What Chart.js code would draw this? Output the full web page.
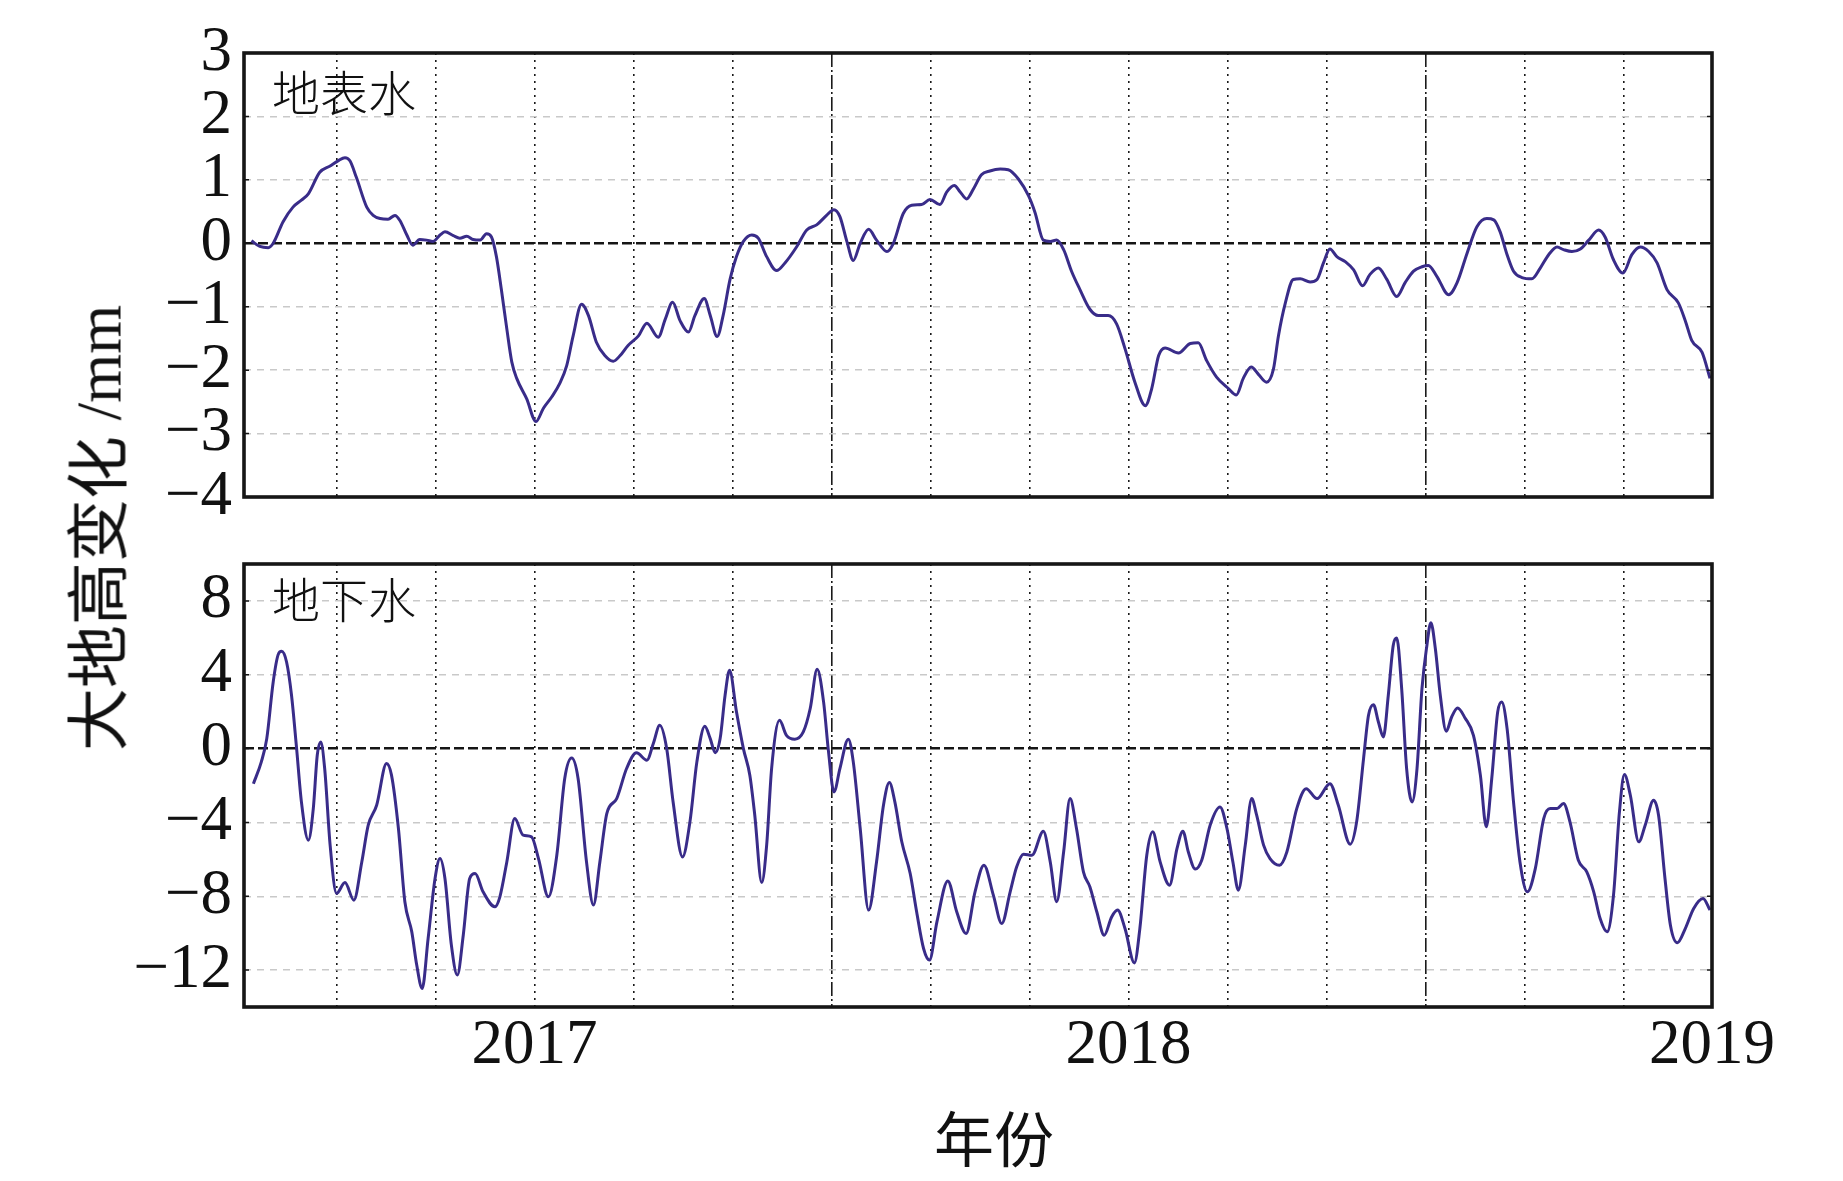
<!doctype html>
<html lang="zh">
  <head>
    <meta charset="utf-8">
    <title>地表水 / 地下水 大地高变化</title>
    <style>
      * {
        margin: 0;
        padding: 0;
      }
      body {
        background: #fff;
      }
      .page {
        position: relative;
        width: 1843px;
        height: 1181px;
        background: #fff;
      }
      .page canvas {
        position: absolute;
        left: 0;
        top: 0;
      }
      .txt {
        position: absolute;
        white-space: nowrap;
        color: #111;
        font-family: "Liberation Serif", "Noto Sans CJK SC", serif;
        line-height: 1;
      }
      .panelName {
        font-size: 48px;
        font-weight: 300;
      }
    </style>
  </head>
  <body>
    <div class="page">
      <canvas id="topChart" width="1843" height="1181"></canvas>
      <canvas id="bottomChart" width="1843" height="1181"></canvas>
      <div class="txt panelName" style="left:272px; top:71px;">地表水</div>
      <div class="txt panelName" style="left:272px; top:578px;">地下水</div>
      <div class="txt" style="left:100px; top:528px; font-size:63px; transform:translate(-50%,-50%) rotate(-90deg);">大地高变化 /mm</div>
      <div class="txt" style="left:994px; top:1142px; font-size:60px; transform:translate(-50%,-50%);">年份</div>
    </div>

    <script src="https://cdn.jsdelivr.net/npm/chart.js/dist/chart.umd.min.js"></script>
    <script>
    // x is counted in months from July 2016
    const X_MIN = 0.13;
    const X_MAX = 29.79;
    const gridMonths = [2, 4, 6, 8, 10, 12, 14, 16, 18, 20, 22, 24, 26, 28];
    const midYearMonths = [12, 24];
    const yearTickMonths = [6, 18, X_MAX];
    const yearLabels = ['2017', '2018', '2019'];

    const topTicks = [-4, -3, -2, -1, 0, 1, 2, 3];
    const bottomTicks = [-12, -8, -4, 0, 4, 8];

    // 地表水
    const surfaceMonths = [
      0.28, 0.45, 0.62, 0.72, 0.92, 1.12, 1.29, 1.43, 1.66, 1.87,
      2.03, 2.17, 2.27, 2.40, 2.61, 2.74, 2.88, 3.04, 3.18, 3.28,
      3.42, 3.54, 3.68, 3.82, 3.95, 4.09, 4.19, 4.36, 4.49, 4.63,
      4.76, 4.90, 5.03, 5.13, 5.23, 5.33, 5.44, 5.54, 5.64, 5.84,
      6.03, 6.18, 6.35, 6.51, 6.65, 6.78, 6.95, 7.09, 7.25, 7.42,
      7.59, 7.73, 7.89, 8.10, 8.27, 8.50, 8.64, 8.79, 8.94, 9.11,
      9.24, 9.43, 9.55, 9.69, 9.81, 9.95,
      10.08, 10.22, 10.39, 10.52, 10.69, 10.89, 11.06, 11.30, 11.50, 11.70,
      11.90, 12.05, 12.17, 12.31, 12.44, 12.58, 12.75, 12.91, 13.12, 13.25,
      13.45, 13.62, 13.82, 13.99, 14.19, 14.33, 14.48, 14.60, 14.73, 14.87,
      15.03, 15.20, 15.41, 15.57, 15.78, 15.98, 16.11, 16.28, 16.42, 16.55,
      16.69, 16.85, 17.02, 17.22, 17.39, 17.59, 17.76, 17.93, 18.13, 18.34,
      18.47, 18.61, 18.74, 19.01, 19.25, 19.41, 19.58, 19.78,
      20.02, 20.18, 20.32, 20.48, 20.63, 20.79, 20.93, 21.03, 21.17, 21.33,
      21.47, 21.67, 21.81, 21.94, 22.07, 22.21, 22.38, 22.55, 22.73, 22.88,
      23.05, 23.22, 23.42, 23.59, 23.76, 23.93, 24.06, 24.23, 24.47, 24.64,
      24.84, 25.04, 25.24, 25.38, 25.51, 25.65, 25.78, 25.95, 26.15, 26.32,
      26.49, 26.66, 26.79, 26.96, 27.13, 27.30, 27.50, 27.63, 27.80, 27.99,
      28.17, 28.34, 28.51, 28.68, 28.88, 29.11, 29.25, 29.38, 29.59, 29.75
    ];
    const surfaceWater = [
      0.04, -0.05, -0.07, 0, 0.34, 0.57, 0.68, 0.78, 1.12, 1.22,
      1.30, 1.35, 1.30, 1.04, 0.57, 0.44, 0.39, 0.38, 0.44, 0.36,
      0.13, -0.03, 0.06, 0.05, 0.03, 0.13, 0.18, 0.12, 0.08, 0.11,
      0.06, 0.05, 0.15, 0.10, -0.21, -0.73, -1.35, -1.87, -2.13, -2.45,
      -2.81, -2.60, -2.42, -2.21, -1.93, -1.46, -0.96, -1.14, -1.56, -1.77,
      -1.86, -1.77, -1.61, -1.46, -1.26, -1.48, -1.20, -0.93, -1.22, -1.40,
      -1.14, -0.87, -1.14, -1.47, -1.14, -0.57,
      -0.21, 0.03, 0.13, 0.08, -0.21, -0.43, -0.31, -0.05, 0.21, 0.29,
      0.44, 0.53, 0.42, 0.03, -0.27, 0, 0.22, 0.05, -0.13, 0,
      0.47, 0.60, 0.61, 0.69, 0.61, 0.81, 0.91, 0.81, 0.70, 0.86,
      1.08, 1.14, 1.17, 1.16, 1.01, 0.75, 0.49, 0.05, 0.03, 0.05,
      -0.10, -0.44, -0.73, -1.04, -1.14, -1.14, -1.27, -1.66, -2.19, -2.56,
      -2.29, -1.77, -1.65, -1.73, -1.58, -1.57, -1.85, -2.11,
      -2.29, -2.39, -2.13, -1.95, -2.07, -2.19, -1.98, -1.46, -0.94, -0.57,
      -0.56, -0.61, -0.57, -0.31, -0.09, -0.21, -0.29, -0.42, -0.67, -0.49,
      -0.39, -0.57, -0.84, -0.62, -0.44, -0.37, -0.35, -0.52, -0.81, -0.62,
      -0.16, 0.26, 0.39, 0.37, 0.18, -0.18, -0.44, -0.54, -0.56, -0.39,
      -0.18, -0.06, -0.10, -0.13, -0.09, 0.05, 0.21, 0.10, -0.26, -0.47,
      -0.18, -0.06, -0.13, -0.31, -0.73, -0.94, -1.22, -1.53, -1.72, -2.13
    ];

    // 地下水
    const groundMonths = [
      0.32, 0.48, 0.59, 0.72, 0.82, 0.89, 0.99, 1.09, 1.19, 1.29,
      1.43, 1.53, 1.61, 1.68, 1.76, 1.87, 2.00, 2.17, 2.35, 2.51,
      2.64, 2.81, 3.01, 3.11, 3.25, 3.38, 3.52, 3.62, 3.73, 3.85,
      3.99, 4.09, 4.19, 4.32, 4.44, 4.56, 4.69, 4.80, 4.96, 5.20,
      5.30, 5.44, 5.60, 5.77, 5.94, 6.08, 6.28, 6.45, 6.61, 6.75,
      6.88, 7.05, 7.19, 7.32, 7.46, 7.66, 7.86, 8.06, 8.27, 8.40,
      8.53, 8.67, 8.80, 8.99, 9.14, 9.28, 9.44, 9.55, 9.65, 9.75,
      9.85, 9.94,
      10.08, 10.22, 10.35, 10.45, 10.59, 10.69, 10.79, 10.95, 11.09, 11.26,
      11.43, 11.57, 11.71, 11.84, 11.94, 12.05, 12.17, 12.34, 12.44, 12.58,
      12.75, 12.91, 13.05, 13.17, 13.28, 13.42, 13.59, 13.72, 13.86, 13.98,
      14.13, 14.35, 14.53, 14.72, 14.90, 15.08, 15.27, 15.44, 15.61, 15.74,
      15.88, 16.05, 16.28, 16.42, 16.55, 16.69, 16.82, 16.95, 17.09, 17.22,
      17.36, 17.51, 17.66, 17.78, 17.93, 18.12, 18.23, 18.37, 18.49, 18.64,
      18.83, 18.98, 19.10, 19.21, 19.35, 19.48, 19.65,
      19.85, 19.99, 20.11, 20.22, 20.36, 20.49, 20.59, 20.73, 20.86, 21.05,
      21.20, 21.40, 21.59, 21.81, 22.07, 22.24, 22.48, 22.61, 22.75, 22.85,
      22.95, 23.05, 23.15, 23.25, 23.35, 23.42, 23.52, 23.62, 23.73, 23.83,
      23.93, 24.03, 24.11, 24.20, 24.30, 24.42, 24.53, 24.65, 24.80, 24.97,
      25.11, 25.23, 25.34, 25.46, 25.54, 25.65, 25.78, 25.91, 26.06, 26.22,
      26.39, 26.52, 26.66, 26.79, 26.92, 27.09, 27.26, 27.40, 27.53, 27.67,
      27.80, 27.92, 28.02, 28.14, 28.31, 28.44, 28.61, 28.71, 28.84, 28.95,
      29.09, 29.25, 29.42, 29.61, 29.75
    ];
    const groundWater = [
      -1.90, -0.72, 0.54, 3.61, 5.09, 5.27, 4.69, 2.89, 0.09, -2.89,
      -4.96, -3.25, -0.36, 0.36, -1.08, -5.23, -7.85, -7.26, -8.21, -6.14,
      -4.15, -3.07, -0.81, -1.44, -4.33, -8.30, -9.93, -11.73, -13.00, -10.29,
      -7.04, -5.96, -7.04, -10.65, -12.27, -10.11, -7.04, -6.77, -7.76, -8.57,
      -8.03, -6.14, -3.79, -4.69, -4.78, -5.96, -8.03, -5.78, -1.62, -0.51,
      -1.62, -6.14, -8.48, -6.14, -3.52, -2.71, -1.08, -0.23, -0.63, 0.27,
      1.26, 0, -2.89, -5.87, -3.97, -0.72, 1.21, 0.54, -0.22, 0.54,
      2.89, 4.24,
      1.99, 0, -1.44, -3.61, -7.26, -5.23, -1.08, 1.53, 0.72, 0.51,
      0.90, 2.17, 4.30, 2.53, -0.18, -2.35, -1.08, 0.51, -0.72, -4.33,
      -8.75, -6.14, -3.07, -1.84, -2.89, -5.05, -6.77, -8.84, -10.83, -11.46,
      -9.39, -7.17, -8.84, -10.02, -7.76, -6.32, -7.94, -9.48, -7.76, -6.41,
      -5.72, -5.78, -4.48, -6.14, -8.30, -5.60, -2.71, -4.33, -6.68, -7.49,
      -8.84, -10.11, -9.12, -8.75, -9.75, -11.61, -9.75, -5.78, -4.51, -6.14,
      -7.40, -5.42, -4.48, -5.60, -6.53, -6.05, -4.15,
      -3.16, -4.33, -6.14, -7.67, -5.23, -2.71, -3.61, -5.23, -5.96, -6.32,
      -5.60, -3.25, -2.17, -2.71, -1.90, -3.07, -5.18, -3.97, -0.54, 1.81,
      2.38, 1.44, 0.63, 2.89, 5.60, 5.99, 3.25, -1.08, -2.89, -1.08,
      3.25, 5.60, 6.82, 5.42, 2.89, 0.94, 1.71, 2.20, 1.66, 0.72,
      -1.44, -4.24, -1.62, 1.99, 2.53, 1.08, -2.89, -6.14, -7.76, -6.50,
      -3.79, -3.25, -3.25, -2.98, -3.97, -6.05, -6.68, -7.76, -9.21, -9.93,
      -7.94, -3.43, -1.41, -2.53, -5.05, -4.15, -2.80, -3.61, -7.04, -9.57,
      -10.52, -9.75, -8.66, -8.12, -8.75
    ];

    const lineColor = '#392c89';
    const tickFont = { family: 'Liberation Serif', size: 63 };

    const minusLabel = v => (v < 0 ? '\u2212' + Math.abs(v) : String(v));

    // thick box round the plot area, with short inner ticks on both sides
    const framePlugin = {
      id: 'frame',
      afterDraw(chart) {
        const { ctx, chartArea: a } = chart;
        const y = chart.scales.y;
        ctx.save();
        ctx.setLineDash([]);
        ctx.strokeStyle = '#161616';
        ctx.lineWidth = 1.5;
        y.ticks.forEach(t => {
          const py = y.getPixelForValue(t.value);
          ctx.beginPath();
          ctx.moveTo(a.left, py); ctx.lineTo(a.left + 5, py);
          ctx.moveTo(a.right - 5, py); ctx.lineTo(a.right, py);
          ctx.stroke();
        });
        ctx.lineWidth = 3.6;
        ctx.strokeRect(a.left, a.top, a.right - a.left, a.bottom - a.top);
        ctx.restore();
      }
    };

    function xScale(showLabels, bottomSpace) {
      return {
        type: 'linear',
        min: X_MIN,
        max: X_MAX,
        afterBuildTicks: s => {
          s.ticks = gridMonths.concat([X_MAX]).map(v => ({ value: v }));
        },
        afterFit: s => { s.height = bottomSpace; },
        grid: {
          drawTicks: false,
          lineWidth: 1.6,
          color: ctx => (ctx.tick && ctx.tick.value === X_MAX ? 'rgba(0,0,0,0)' : '#1a1a1a')
        },
        border: {
          display: false,
          dash: ctx => {
            if (!ctx.tick) return [];
            return midYearMonths.includes(ctx.tick.value) ? [14, 3, 2, 3] : [2, 5];
          }
        },
        ticks: {
          display: showLabels,
          autoSkip: false,
          maxRotation: 0,
          padding: 2,
          color: '#111',
          font: tickFont,
          callback: v => {
            const i = yearTickMonths.indexOf(v);
            return i >= 0 ? yearLabels[i] : '';
          }
        }
      };
    }

    function yScale(min, max, tickValues) {
      return {
        min: min,
        max: max,
        afterBuildTicks: s => {
          s.ticks = tickValues.map(v => ({ value: v }));
        },
        afterFit: s => { s.width = 244; },
        grid: {
          drawTicks: false,
          lineWidth: ctx => (ctx.tick && ctx.tick.value === 0 ? 2.4 : 1.5),
          color: ctx => (ctx.tick && ctx.tick.value === 0 ? '#151515' : '#c9c9c9')
        },
        border: {
          display: false,
          dash: ctx => {
            if (!ctx.tick) return [];
            return ctx.tick.value === 0 ? [10, 4] : [7, 6];
          }
        },
        ticks: {
          autoSkip: false,
          padding: 12,
          color: '#111',
          font: tickFont,
          callback: v => minusLabel(v)
        }
      };
    }

    function panel(canvasId, months, values, yMin, yMax, yTicks, padding, showX, xSpace) {
      return new Chart(document.getElementById(canvasId), {
        type: 'line',
        data: {
          datasets: [{
            data: months.map((m, i) => ({ x: m, y: values[i] })),
            borderColor: lineColor,
            borderWidth: 3,
            pointRadius: 0,
            cubicInterpolationMode: 'monotone',
            fill: false
          }]
        },
        options: {
          responsive: false,
          animation: false,
          layout: { padding: padding },
          plugins: {
            legend: { display: false },
            tooltip: { enabled: false }
          },
          scales: {
            x: xScale(showX, xSpace),
            y: yScale(yMin, yMax, yTicks)
          }
        },
        plugins: [framePlugin]
      });
    }

    const topChart = panel('topChart', surfaceMonths, surfaceWater, -4, 3, topTicks,
      { top: 53, right: 131, bottom: 684, left: 0 }, false, 0);

    const bottomChart = panel('bottomChart', groundMonths, groundWater, -14, 10, bottomTicks,
      { top: 564, right: 131, bottom: 0, left: 0 }, true, 174);
    </script>
  </body>
</html>
